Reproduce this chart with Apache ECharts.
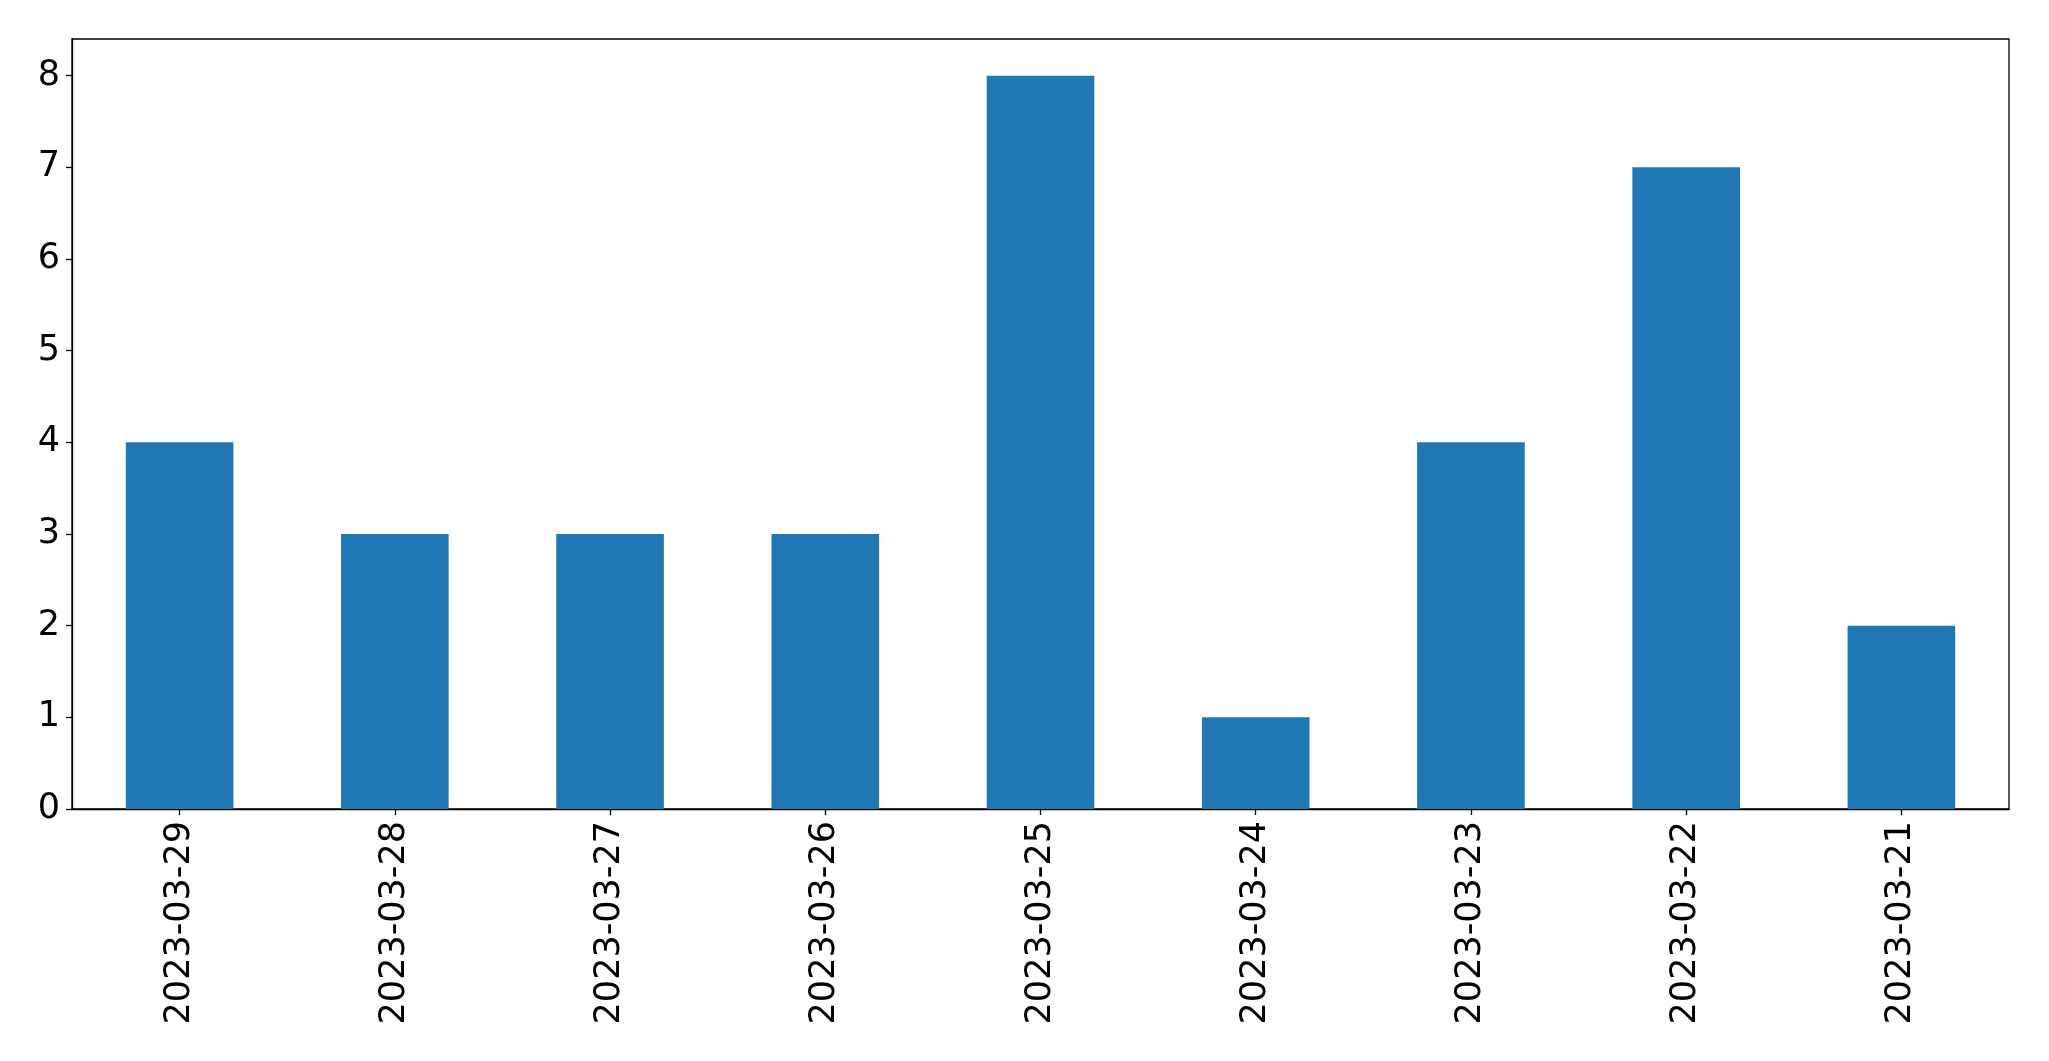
<!DOCTYPE html>
<html>
<head>
<meta charset="utf-8">
<script src="https://cdn.jsdelivr.net/npm/echarts@6/dist/echarts.min.js"></script>
<style>
html,body{margin:0;padding:0;background:#fff;}
#chart{width:2049px;height:1061px;}
</style>
</head>
<body>
<div id="chart"></div>
<script>
const categories = ["2023-03-29","2023-03-28","2023-03-27","2023-03-26","2023-03-25","2023-03-24","2023-03-23","2023-03-22","2023-03-21"];
const values = [4,3,3,3,8,1,4,7,2];
const yTicks = [0,1,2,3,4,5,6,7,8];

const chart = echarts.init(document.getElementById('chart'));
const font = 'DejaVu Sans';
chart.setOption({
  animation: false,
  backgroundColor: '#fff',
  grid: {left: 72, top: 39, right: 40, bottom: 252, show: true, borderColor: '#000', borderWidth: 1.3, containLabel: false},
  xAxis: {
    type: 'category',
    data: categories,
    boundaryGap: true,
    axisLine: {show: true, lineStyle: {color: '#000', width: 1.3}},
    axisTick: {show: true, alignWithLabel: true, length: 6, lineStyle: {color: '#000', width: 1.3}},
    axisLabel: {rotate: 90, fontFamily: font, fontSize: 35, color: '#000', margin: 12, interval: 0}
  },
  yAxis: {
    type: 'value',
    min: 0, max: 8.4,
    splitLine: {show: false},
    axisLine: {show: true, lineStyle: {color: '#000', width: 1.3}},
    axisTick: {show: true, length: 6, lineStyle: {color: '#000', width: 1.3}, customValues: yTicks},
    axisLabel: {fontFamily: font, fontSize: 35, color: '#000', margin: 12, customValues: yTicks}
  },
  series: [{
    type: 'bar',
    data: values,
    barWidth: '50%',
    itemStyle: {color: '#1f77b4'}
  }]
});
</script>
</body>
</html>
